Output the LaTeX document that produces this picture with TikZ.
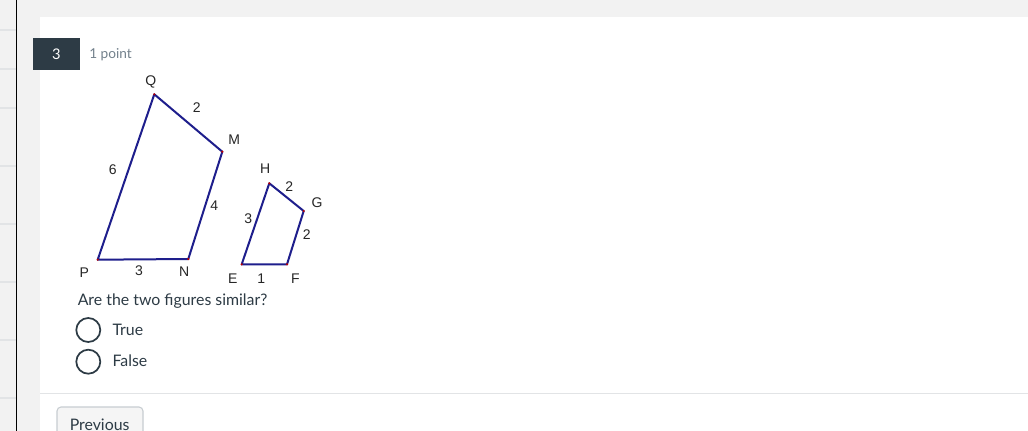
\documentclass[tikz,border=0pt]{standalone}
\usepackage{fontspec}
\setmainfont{Lato}
\newfontfamily\arialfont{Liberation Sans}
\usetikzlibrary{positioning}

\definecolor{pagegray}{HTML}{F2F2F2}
\definecolor{badgedark}{HTML}{2D3B45}
\definecolor{inkdark}{HTML}{2D3B45}
\definecolor{pointgray}{HTML}{73818C}
\definecolor{shapeblue}{HTML}{1E1E8C}
\definecolor{rulegray}{HTML}{E2E4E6}
\definecolor{btnborder}{HTML}{C7CDD1}
\definecolor{btnfill}{HTML}{F5F5F5}

\begin{document}
\begin{tikzpicture}[x=0.75pt,y=-0.75pt,
    vlabel/.style={font=\arialfont\fontsize{10.5}{11}\selectfont, inner sep=0pt, text=black!85},
    side/.style={draw=shapeblue, line width=1.5pt, line join=round},
    qtext/.style={font=\fontsize{11.9}{14}\selectfont, text=inkdark, inner sep=0pt},
    radio/.style={draw=inkdark, line width=1.3pt, circle, minimum size=18pt, inner sep=0pt}]
\path[clip] (0,0) rectangle (1028,431);

% page background and sidebar
\fill[pagegray] (0,0) rectangle (1028,431);
\fill[white] (40,17) rectangle (1028,431);
\draw[black, line width=1pt] (16.5,0) -- (16.5,431);
\foreach \y in {30,69,108,166,224,282,340,398} {
    \draw[rulegray, line width=0.8pt] (0,\y) -- (16,\y);
}

% question header
\fill[badgedark] (33,38) rectangle (80,70);
\node[font=\fontsize{11}{12}\selectfont, text=white] (num) at (56.5,54.5) {3};
\node[font=\fontsize{10.25}{11}\selectfont, text=pointgray, anchor=west, inner sep=0pt] (pts) at (89,55) {1 point};

% big quadrilateral PQMN
\coordinate (Q) at (154.3,94.3);
\coordinate (M) at (222.3,151.7);
\coordinate (N) at (188.3,259);
\coordinate (P) at (97.7,259.7);
\draw[side] (P) -- (Q) -- (M) -- (N) -- cycle;

% small quadrilateral EHGF
\coordinate (H) at (269.3,183.3);
\coordinate (G) at (303.7,211);
\coordinate (F) at (287,264.3);
\coordinate (E) at (241.7,264.3);
\draw[side] (E) -- (H) -- (G) -- (F) -- cycle;

% vertex dots
\foreach \v in {P,Q,M,N,E,F,G,H} {
    \fill[red!75!black] (\v) circle (1.2);
}

% vertex names
\node[vlabel] (lQ) at (150.7,82.3) {Q};
\node[vlabel] (lM) at (234.3,139.3) {M};
\node[vlabel] (lP) at (84.3,272.3) {P};
\node[vlabel] (lN) at (184.3,271.7) {N};
\node[vlabel] (lH) at (265.3,168.3) {H};
\node[vlabel] (lG) at (317,202.7) {G};
\node[vlabel] (lE) at (232.7,278.3) {E};
\node[vlabel] (lF) at (295.3,278.3) {F};

% side lengths
\node[vlabel] (sQM) at (196.7,107.7) {2};
\node[vlabel] (sPQ) at (112.7,170) {6};
\node[vlabel] (sMN) at (214.3,206) {4};
\node[vlabel] (sPN) at (139,271) {3};
\node[vlabel] (sHG) at (289.3,186.7) {2};
\node[vlabel] (sEH) at (248.3,218.3) {3};
\node[vlabel] (sGF) at (306.7,234.3) {2};
\node[vlabel] (sEF) at (261.3,278.3) {1};

% question and answers
\node[qtext, anchor=west] (ask) at (77.5,301.5) {Are the two figures similar?};
\node[radio] (rTrue) at (88.3,330) {};
\node[qtext, anchor=west] (aTrue) at (112.3,329.5) {True};
\node[radio] (rFalse) at (88.3,361.7) {};
\node[qtext, anchor=west] (aFalse) at (112.3,361.2) {False};

% footer
\draw[rulegray, line width=0.8pt] (40,393.5) -- (1028,393.5);
\draw[btnborder, fill=btnfill, line width=0.8pt, rounded corners=3pt] (57,407) rectangle (143,445);
\node[qtext, anchor=west] (prev) at (69.5,425) {Previous};
\end{tikzpicture}
\end{document}
